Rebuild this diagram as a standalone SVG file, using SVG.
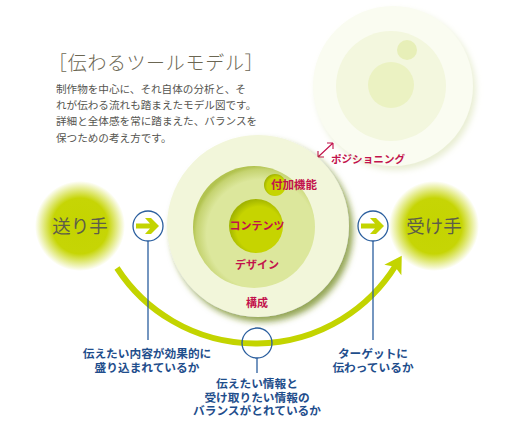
<svg xmlns="http://www.w3.org/2000/svg" width="527" height="425" viewBox="0 0 527 425">
<defs>
<style>
.jp{font-family:"Noto Sans CJK JP","Noto Sans",sans-serif}
.title{font-size:19px;fill:#6b6652;font-weight:300;letter-spacing:0.7px}
.body{font-size:10.6px;fill:#555550}
.party{font-size:18.5px;fill:#5e5e48}
.lab{font-size:11px;fill:#c2124c;font-weight:bold;text-anchor:middle}
.note{font-size:11.7px;fill:#1f4e8c;font-weight:bold;text-anchor:middle}
.bl{stroke:#2a5e9e;stroke-width:1.3;fill:none}
.garrow{fill:#c3d400}
</style>
<radialGradient id="blob" cx="0.5" cy="0.5" r="0.5">
<stop offset="0" stop-color="#c4d400"/>
<stop offset="0.62" stop-color="#c6d505"/>
<stop offset="1" stop-color="#c6d505" stop-opacity="0"/>
</radialGradient>
<radialGradient id="mid" cx="0.56" cy="0.56" r="0.56">
<stop offset="0.8" stop-color="#dce79c"/>
<stop offset="0.95" stop-color="#c5d370"/>
<stop offset="1" stop-color="#b2c350"/>
</radialGradient>
<radialGradient id="core" cx="0.56" cy="0.56" r="0.56">
<stop offset="0.75" stop-color="#c6d400"/>
<stop offset="1" stop-color="#a2b400"/>
</radialGradient>
<filter id="sh" x="-20%" y="-20%" width="140%" height="140%">
<feDropShadow dx="4" dy="5" stdDeviation="3" flood-color="#70881a" flood-opacity="0.75"/>
</filter>
<filter id="shf" x="-20%" y="-20%" width="140%" height="140%">
<feDropShadow dx="3" dy="4" stdDeviation="3" flood-color="#dfe6c0" flood-opacity="0.7"/>
</filter>
<marker id="ah" markerUnits="userSpaceOnUse" viewBox="-8 -12 22 24" refX="0" refY="0" markerWidth="22" markerHeight="24" orient="auto">
<path d="M-6,-10 L11,0 L-6,10 L-2,0 Z" fill="#c3d400"/>
</marker>
</defs>
<rect width="527" height="425" fill="#ffffff"/>

<g id="intro" class="jp">
<text class="title" x="48" y="70">［伝わるツールモデル］</text>
<text class="body" x="56" y="93">制作物を中心に、それ自体の分析と、そ</text>
<text class="body" x="56" y="109">れが伝わる流れも踏まえたモデル図です。</text>
<text class="body" x="56" y="125">詳細と全体感を常に踏まえた、バランスを</text>
<text class="body" x="56" y="142">保つための考え方です。</text>
</g>

<g id="positioned-model">
<circle cx="393" cy="86" r="80" fill="#fafcf1" filter="url(#shf)"/>
<circle cx="391" cy="86" r="55" fill="#f3f7de"/>
<circle cx="391" cy="85" r="23" fill="#ebf2c2"/>
<circle cx="407" cy="50" r="10" fill="#e7efb8"/>
</g>

<g id="positioning" class="jp">
<path d="M318,157 L333,143 M318,157 l0,-6 M318,157 l6,0 M333,143 l-6,0 M333,143 l0,6" stroke="#c2124c" stroke-width="1.1" fill="none"/>
<text class="lab" x="368" y="163" style="font-size:10.6px">ポジショニング</text>
</g>

<g id="connectors">
<path d="M117,268 A165,165 0 0 0 396,265" stroke="#c3d400" stroke-width="6" fill="none" marker-end="url(#ah)"/>
<line class="bl" x1="148" y1="241" x2="148" y2="340"/>
<line class="bl" x1="373" y1="241" x2="373" y2="340"/>
<line class="bl" x1="257" y1="358" x2="257" y2="373"/>
</g>

<g id="sender" class="jp">
<circle cx="80" cy="226" r="45" fill="url(#blob)"/>
<text class="party" x="80" y="233" text-anchor="middle">送り手</text>
</g>

<g id="receiver" class="jp">
<circle cx="434" cy="226" r="45" fill="url(#blob)"/>
<text class="party" x="434" y="233" text-anchor="middle">受け手</text>
</g>

<g id="check-left">
<circle class="bl" cx="148" cy="226" r="15"/>
<polygon class="garrow" points="136,223.5 150,223.5 145,218 151,218 159,226 151,234 145,234 150,228.5 136,228.5"/>
</g>
<g id="check-right">
<circle class="bl" cx="373" cy="226" r="15"/>
<polygon class="garrow" points="361,223.5 375,223.5 370,218 376,218 384,226 376,234 370,234 375,228.5 361,228.5"/>
</g>
<g id="check-bottom">
<circle class="bl" cx="257" cy="343" r="15"/>
</g>

<g id="structure" class="jp">
<circle cx="258" cy="226" r="91" fill="#f2f6da" filter="url(#sh)"/>
<text class="lab" x="257" y="307">構成</text>
</g>
<g id="design" class="jp">
<circle cx="254" cy="227" r="61" fill="url(#mid)"/>
<text class="lab" x="257" y="269">デザイン</text>
</g>
<g id="contents" class="jp">
<circle cx="256" cy="226" r="27" fill="url(#core)"/>
<text class="lab" x="257" y="230">コンテンツ</text>
</g>
<g id="extras" class="jp">
<circle cx="275" cy="185" r="11" fill="url(#core)"/>
<text class="lab" x="294" y="189" style="font-size:11.5px">付加機能</text>
</g>

<g id="notes" class="jp">
<text class="note" x="147" y="357.5">伝えたい内容が効果的に</text>
<text class="note" x="147" y="371.5">盛り込まれているか</text>
<text class="note" x="373" y="357.5">ターゲットに</text>
<text class="note" x="373" y="371.5">伝わっているか</text>
<text class="note" x="257" y="387.5">伝えたい情報と</text>
<text class="note" x="257" y="401.5">受け取りたい情報の</text>
<text class="note" x="257" y="415">バランスがとれているか</text>
</g>
</svg>
